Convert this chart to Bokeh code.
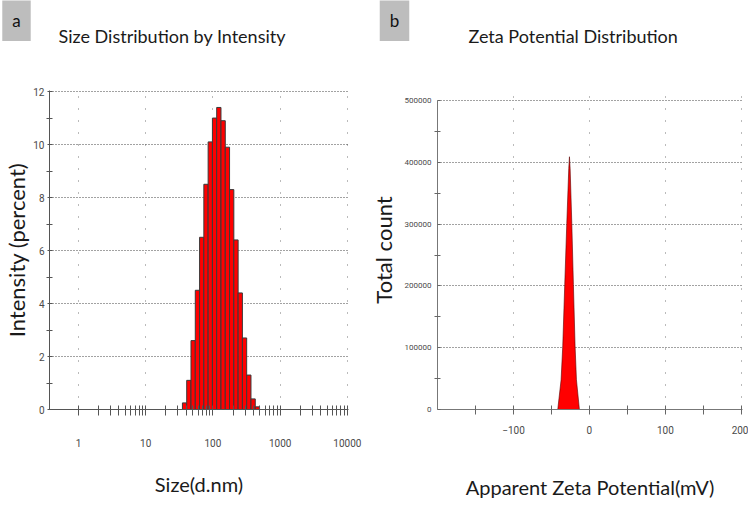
import math
from bokeh.plotting import figure
from bokeh.layouts import row, column
from bokeh.models import FixedTicker, BasicTickFormatter, Label
from bokeh.embed import file_html
from bokeh.resources import INLINE

# ---------------- data ----------------
# Panel a: size distribution by intensity (bin centre sizes in nm, intensity %)
size_nm = [37.84, 43.82, 50.75, 58.77, 68.06, 78.82, 91.28, 105.7, 122.4,
           141.8, 164.2, 190.1, 220.2, 255.0, 295.3, 342.0, 396.1, 458.7]
intensity_pct = [0.25, 1.1, 2.6, 4.5, 6.5, 8.5, 10.1, 11.0, 11.4,
                 10.9, 9.9, 8.3, 6.4, 4.4, 2.7, 1.3, 0.4, 0.1]
size_major_ticks = [1, 10, 100, 1000, 10000]
intensity_ticks = [0, 2, 4, 6, 8, 10, 12]

# Panel b: zeta potential distribution
zeta_mv = [-41.7, -37.3, -35.1, -32.5, -29.8, -27.2, -26.3, -25.4, -23.2,
           -21.1, -18.9, -17.1, -13.2]
total_count = [0, 48000, 103000, 202000, 301000, 390000, 409000, 390000,
               301000, 202000, 103000, 48000, 0]
zeta_ticks = [-100, 0, 100, 200]
count_ticks = [0, 100000, 200000, 300000, 400000, 500000]

TICK_FONT = "Roboto"
TEXT_FONT = "Lato"

# bar edges: geometric mid-points between neighbouring bins
ratio = size_nm[1] / size_nm[0]
left = [s / math.sqrt(ratio) for s in size_nm]
right = [s * math.sqrt(ratio) for s in size_nm]

PLOT_H = 453
TOP_B = 40
BOT_B = 94
FRAME_H = PLOT_H - TOP_B - BOT_B


def style_axes(p, axis_color, tick_color):
    for ax in (p.xaxis, p.yaxis):
        ax.axis_line_color = axis_color
        ax.major_tick_line_color = tick_color
        ax.minor_tick_line_color = tick_color
        ax.major_label_text_font = TICK_FONT
        ax.major_label_text_color = "#4a4a4a"
        ax.axis_label_text_font = TEXT_FONT
        ax.axis_label_text_font_style = "normal"
        ax.axis_label_text_color = "#1a1a1a"


# ---------------- header (panel letters and titles) ----------------
hdr = figure(width=748, height=50, x_range=(0, 1), y_range=(0, 1),
             output_backend="svg", toolbar_location=None,
             x_axis_location=None, y_axis_location=None,
             min_border_left=0, min_border_right=0,
             min_border_top=0, min_border_bottom=0)
hdr.outline_line_color = None
hdr.grid.visible = False


def hdr_label(txt, x, y, align="left", box=False):
    kw = dict(x=x, y=y, x_units="screen", y_units="screen", text=txt,
              text_align=align, text_baseline="middle",
              text_font=TEXT_FONT, text_font_size="18px", text_color="#1a1a1a")
    if box:
        kw.update(background_fill_color="#bdbdbd", padding=10,
                  text_color="#111111", text_font_size="17px")
    return Label(**kw)


hdr.add_layout(hdr_label("a", 16, 30, align="center", box=True))
hdr.add_layout(hdr_label("Size Distribution by Intensity", 58, 15))
hdr.add_layout(hdr_label("b", 394, 30, align="center", box=True))
hdr.add_layout(hdr_label("Zeta Potential Distribution", 468, 15))

# ---------------- panel a ----------------
pa = figure(width=366, height=PLOT_H, x_axis_type="log",
            x_range=(0.37, 10400), y_range=(0, 12.04),
            output_backend="svg", toolbar_location=None,
            min_border_left=42, min_border_right=18,
            min_border_top=TOP_B, min_border_bottom=BOT_B)
pa.outline_line_color = None
pa.quad(left=left, right=right, bottom=0, top=intensity_pct,
        fill_color="#ff0000", line_color="#3a3a3a", line_width=1)

minor_x = [m * d for d in size_major_ticks[:-1] for m in range(2, 10)]
pa.xaxis.ticker = FixedTicker(ticks=size_major_ticks, minor_ticks=minor_x)
pa.yaxis.ticker = FixedTicker(ticks=intensity_ticks,
                              minor_ticks=[1, 3, 5, 7, 9, 11])
pa.xaxis.formatter = BasicTickFormatter(use_scientific=False)

pa.xgrid.grid_line_color = "#777777"
pa.xgrid.grid_line_dash = "1 11"
pa.ygrid.grid_line_color = "#444444"
pa.ygrid.grid_line_dash = "1 2"
style_axes(pa, "#555555", "#555555")

pa.xaxis.major_tick_in = 4
pa.xaxis.major_tick_out = 6
pa.xaxis.minor_tick_in = 4
pa.xaxis.minor_tick_out = 6
pa.xaxis.major_label_standoff = 23
pa.xaxis.major_label_text_font_size = "10px"
pa.xaxis.axis_label = "Size(d.nm)"
pa.xaxis.axis_label_text_font_size = "20px"
pa.xaxis.axis_label_standoff = 22

pa.yaxis.major_tick_in = 3
pa.yaxis.major_tick_out = 2
pa.yaxis.minor_tick_in = 3
pa.yaxis.minor_tick_out = 3
pa.yaxis.major_label_standoff = 2
pa.yaxis.major_label_text_font_size = "10px"
pa.yaxis.axis_label = "Intensity (percent)"
pa.yaxis.axis_label_text_font_size = "22px"
pa.yaxis.axis_label_standoff = 0

# ---------------- panel b ----------------
# zero sits on the shared frame bottom, 500000 lies 10 px below the frame top
b_top = count_ticks[-1] * FRAME_H / (FRAME_H - 10)
pb = figure(width=382, height=PLOT_H, x_range=(-200, 201.5), y_range=(0, b_top),
            output_backend="svg", toolbar_location=None,
            min_border_left=67, min_border_right=6,
            min_border_top=TOP_B, min_border_bottom=BOT_B)
pb.outline_line_color = None
pb.patch(zeta_mv, total_count, fill_color="#ff0000",
         line_color="#5a0000", line_width=0.6)

pb.xaxis.ticker = FixedTicker(ticks=zeta_ticks, minor_ticks=[-150, -50, 50, 150])
pb.yaxis.ticker = FixedTicker(ticks=count_ticks,
                              minor_ticks=[50000, 150000, 250000, 350000, 450000])
pb.yaxis.bounds = (count_ticks[0], count_ticks[-1])
pb.xaxis.formatter = BasicTickFormatter(use_scientific=False)
pb.yaxis.formatter = BasicTickFormatter(use_scientific=False)

pb.xgrid.grid_line_color = "#777777"
pb.xgrid.grid_line_dash = "1 11"
pb.ygrid.grid_line_color = "#444444"
pb.ygrid.grid_line_dash = "1 2"
style_axes(pb, "#777777", "#666666")

pb.xaxis.major_tick_in = 4
pb.xaxis.major_tick_out = 5
pb.xaxis.minor_tick_in = 4
pb.xaxis.minor_tick_out = 5
pb.xaxis.major_label_standoff = 11
pb.xaxis.major_label_text_font_size = "10px"
pb.xaxis.axis_label = "Apparent Zeta Potential(mV)"
pb.xaxis.axis_label_text_font_size = "20px"
pb.xaxis.axis_label_standoff = 38

pb.yaxis.major_tick_in = 3
pb.yaxis.major_tick_out = 0
pb.yaxis.minor_tick_in = 3
pb.yaxis.minor_tick_out = 3
pb.yaxis.major_label_standoff = 3
pb.yaxis.major_label_text_font_size = "8px"
pb.yaxis.axis_label = "Total count"
pb.yaxis.axis_label_text_font_size = "22px"
pb.yaxis.axis_label_standoff = 5

layout = column(hdr, row(pa, pb))
open("out.html", "w").write(file_html(layout, INLINE))
